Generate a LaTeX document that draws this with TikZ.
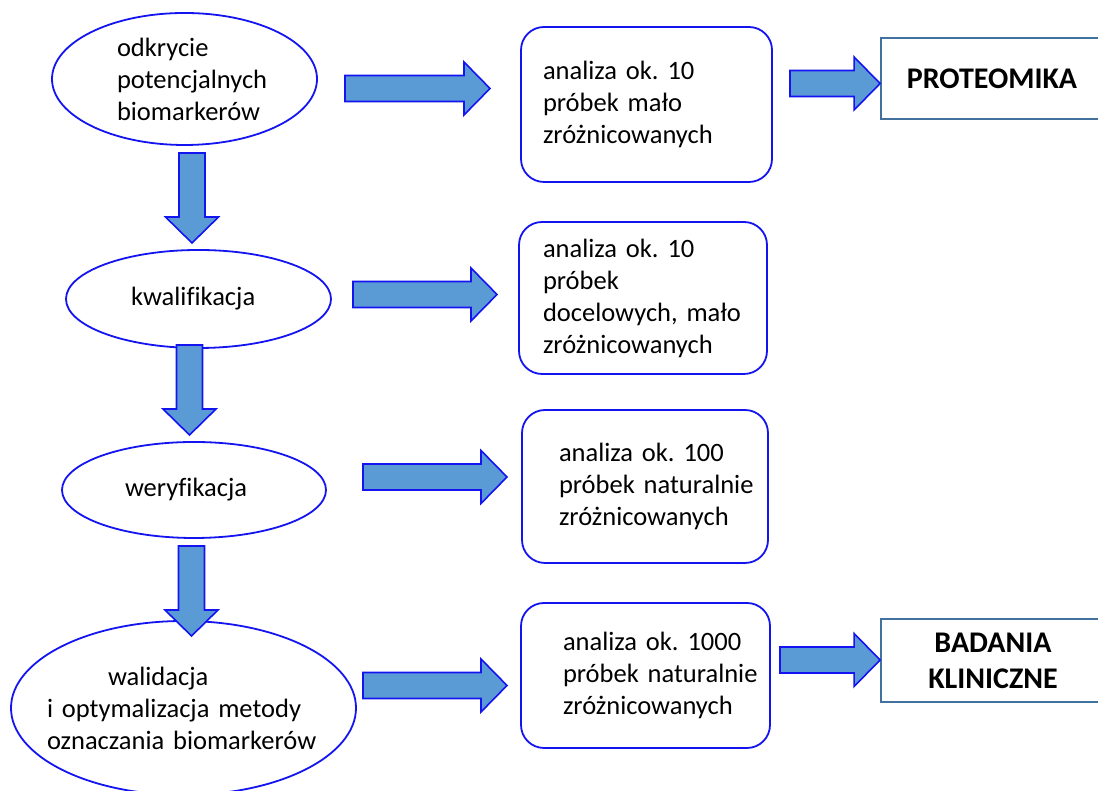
\documentclass[tikz,border=0pt]{standalone}
\usepackage{fontspec}
\setmainfont{Carlito}[Ligatures=NoCommon]
\frenchspacing
\usepackage{tikz}
\usetikzlibrary{shapes.geometric}
\usetikzlibrary{calc}
\tikzset{
  stage/.style = {ellipse, draw = shapeBlue, line width = 1.8pt, fill = white,
    inner sep = 0pt, align = left, font = \fontsize{26.5}{32}\selectfont},
  sample/.style = {rectangle, rounded corners = 23pt, draw = shapeBlue,
    line width = 1.8pt, fill = white, inner sep = 0pt, text width = 235pt,
    align = left, font = \fontsize{26.5}{32}\selectfont},
  result/.style = {rectangle, draw = resultLine, line width = 1.8pt, fill = white,
    inner sep = 0pt, align = center, font = \fontsize{30}{36}\selectfont\bfseries},
  blockarrow/.style = {draw = shapeBlue, fill = arrowFill, line width = 1.6pt,
    line join = miter},
  lskip/.style = {execute at begin node = {\leftskip=#1\relax}}
}
\newcommand{\rightblock}[2]{%
  \draw[blockarrow] let \p1 = (#1), \p2 = (#2) in
    (\x1,\y1+13pt) -- (\x2-26pt,\y1+13pt) -- (\x2-26pt,\y1+26.5pt) -- (\x2,\y1)
    -- (\x2-26pt,\y1-26.5pt) -- (\x2-26pt,\y1-13pt) -- (\x1,\y1-13pt) -- cycle;}
\newcommand{\downblock}[2]{%
  \draw[blockarrow] let \p1 = (#1), \p2 = (#2) in
    (\x1-13pt,\y1) -- (\x1-13pt,\y2+26pt) -- (\x1-26.5pt,\y2+26pt) -- (\x1,\y2)
    -- (\x1+26.5pt,\y2+26pt) -- (\x1+13pt,\y2+26pt) -- (\x1+13pt,\y1) -- cycle;}

\begin{document}
\begin{tikzpicture}[x=1pt,y=1pt]
\definecolor{fillColor}{RGB}{255,255,255}
\path[use as bounding box,fill=fillColor] (0,0) rectangle (1098,791);
\begin{scope}
\path[clip] (0,0) rectangle (1098,791);
\definecolor{shapeBlue}{RGB}{20,20,240}
\definecolor{arrowFill}{RGB}{91,155,213}
\definecolor{resultLine}{RGB}{65,113,156}

% etapy
\node[stage, minimum width=265pt, minimum height=132pt, text width=180pt, lskip=22.5pt]
  (odkrycie) at (184.5,712) {odkrycie\\potencjalnych\\biomarkerów};
\node[stage, minimum width=265pt, minimum height=98pt, text width=150pt, lskip=7.5pt]
  (kwalif) at (198.5,492) {kwalifikacja};
\node[stage, minimum width=264pt, minimum height=96pt, text width=150pt, lskip=6pt]
  (weryf) at (194,301) {weryfikacja};
\node[stage, minimum width=345pt, minimum height=174pt, text width=285pt, inner xsep=-30pt, lskip=6pt]
  (walid) at (183.5,83) {\hspace*{61pt}walidacja\\i optymalizacja metody\\oznaczania biomarkerów};

% analizy
\node[sample, minimum width=251pt, minimum height=155pt, lskip=14pt]
  (an10a) at (646.5,686.5) {analiza ok. 10\\próbek mało\\zróżnicowanych};
\node[sample, minimum width=248pt, minimum height=152pt, lskip=17.5pt]
  (an10b) at (643,493) {analiza ok. 10\\próbek\\docelowych, mało\\zróżnicowanych};
\node[sample, minimum width=246pt, minimum height=153pt, lskip=31.5pt]
  (an100) at (645,304.5) {analiza ok. 100\\próbek naturalnie\\zróżnicowanych};
\node[sample, minimum width=249pt, minimum height=145pt, lskip=35pt]
  (an1000) at (645.5,115.5) {analiza ok. 1000\\próbek naturalnie\\zróżnicowanych};

% wyniki
\node[result, minimum width=222pt, minimum height=81pt] (proteom) at (992,712.5) {PROTEOMIKA};
\node[result, minimum width=224pt, minimum height=83pt] (badania) at (993,130.5) {BADANIA\\KLINICZNE};

% strzalki
\coordinate (d1from) at (192,638);
\coordinate (d1to) at (192,548);
\coordinate (d2from) at (189.5,446);
\coordinate (d2to) at (189.5,356);
\coordinate (d3from) at (191.5,245);
\coordinate (d3to) at (191.5,155);
\coordinate (r1from) at (345,702.5);
\coordinate (r1to) at (490,702.5);
\coordinate (r2from) at (353,496.5);
\coordinate (r2to) at (497,496.5);
\coordinate (r3from) at (363,314);
\coordinate (r3to) at (507,314);
\coordinate (r4from) at (363,105.5);
\coordinate (r4to) at (507,105.5);
\coordinate (r5from) at (790,707.5);
\coordinate (r5to) at (proteom.west |- r5from);
\coordinate (r6from) at (780,131);
\coordinate (r6to) at (badania.west |- r6from);

\downblock{d1from}{d1to}
\downblock{d2from}{d2to}
\downblock{d3from}{d3to}
\rightblock{r1from}{r1to}
\rightblock{r2from}{r2to}
\rightblock{r3from}{r3to}
\rightblock{r4from}{r4to}
\rightblock{r5from}{r5to}
\rightblock{r6from}{r6to}
\end{scope}
\end{tikzpicture}
\end{document}
